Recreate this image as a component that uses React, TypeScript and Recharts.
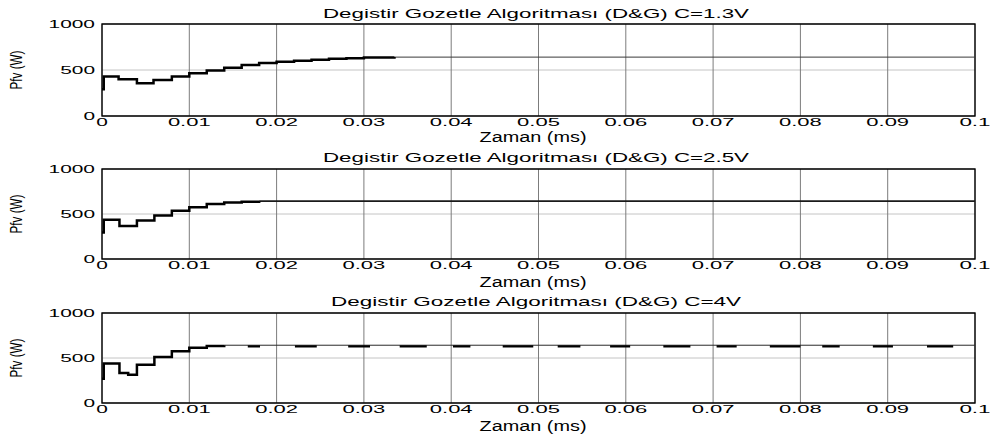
import React from "react";
import { LineChart, Line, XAxis, YAxis, CartesianGrid, ReferenceArea } from "recharts";

// ---------- data ----------
const X_TICKS = [0, 0.01, 0.02, 0.03, 0.04, 0.05, 0.06, 0.07, 0.08, 0.09, 0.1];
const Y_TICKS = [0, 500, 1000];
const TITLES = [
  "Degistir Gozetle Algoritması (D&G) C=1.3V",
  "Degistir Gozetle Algoritması (D&G) C=2.5V",
  "Degistir Gozetle Algoritması (D&G) C=4V",
];
const X_LABEL = "Zaman (ms)";
const Y_LABEL = "Pfv (W)";

// C = 1.3 V
const C13_TIMES = [0, 0.0002, 0.0019, 0.004, 0.0059, 0.008, 0.01, 0.012, 0.014, 0.016, 0.018, 0.02, 0.022, 0.024, 0.026, 0.028, 0.03, 0.0335];
const C13_POWER = [290, 428, 400, 356, 390, 429, 465, 495, 524, 553, 575, 590, 600, 611, 622, 629, 636, 640];
const C13_STEADY_TIMES = [0.0335, 0.1];
const C13_STEADY_POWER = [640, 640];

// C = 2.5 V
const C25_TIMES = [0, 0.0002, 0.002, 0.004, 0.006, 0.008, 0.01, 0.012, 0.014, 0.016, 0.018];
const C25_POWER = [294, 435, 368, 428, 483, 535, 576, 610, 628, 636, 643];
const C25_STEADY_TIMES = [0.018, 0.1];
const C25_STEADY_POWER = [643, 643];

// C = 4 V
const C4_TIMES = [0, 0.0002, 0.002, 0.003, 0.004, 0.006, 0.008, 0.01, 0.012, 0.014];
const C4_POWER = [270, 440, 333, 315, 425, 510, 575, 615, 632, 642];
const C4_STEADY_TIMES = [0.014, 0.1];
const C4_STEADY_POWER = [642, 642];
const C4_BURST_STARTS = [0.0167, 0.0221, 0.0282, 0.0341, 0.0402, 0.0459, 0.0522, 0.0582, 0.0643, 0.0704, 0.0765, 0.0825, 0.0883, 0.0945];
const C4_BURST_ENDS = [0.0181, 0.0246, 0.0307, 0.0372, 0.0422, 0.0494, 0.0548, 0.0605, 0.0674, 0.0727, 0.08, 0.0845, 0.0906, 0.0975];
const C4_BURST_LEVEL = 630;

// ---------- helpers ----------
const zip = (ts: number[], vs: number[]) => ts.map((t, i) => ({ t, v: vs[i] }));
const bursts = (starts: number[], ends: number[], level: number) => {
  const out: { t: number; v: number | null }[] = [];
  starts.forEach((s, i) => {
    out.push({ t: s, v: level });
    out.push({ t: ends[i], v: level });
    if (i < starts.length - 1) out.push({ t: (ends[i] + starts[i + 1]) / 2, v: null });
  });
  return out;
};

const PANELS = [
  {
    transient: zip(C13_TIMES, C13_POWER),
    steady: zip(C13_STEADY_TIMES, C13_STEADY_POWER),
    steadyStyle: { stroke: "#3a3a3a", width: 1 },
    bursts: null as any,
  },
  {
    transient: zip(C25_TIMES, C25_POWER),
    steady: zip(C25_STEADY_TIMES, C25_STEADY_POWER),
    steadyStyle: { stroke: "#1a1a1a", width: 1.6 },
    bursts: null as any,
  },
  {
    transient: zip(C4_TIMES, C4_POWER),
    steady: zip(C4_STEADY_TIMES, C4_STEADY_POWER),
    steadyStyle: { stroke: "#2a2a2a", width: 1 },
    bursts: bursts(C4_BURST_STARTS, C4_BURST_ENDS, C4_BURST_LEVEL),
  },
];

// layout (pixels)
const LAYOUT = [
  { top: 0, height: 146, mt: 24, mb: 10, titleY: 17.5, xLabelY: 142, yMid: 70 },
  { top: 146, height: 146, mt: 23, mb: 13, titleY: 162, xLabelY: 287, yMid: 214 },
  { top: 292, height: 147, mt: 21, mb: 16, titleY: 306, xLabelY: 431, yMid: 358 },
];
const TITLE_LEN = [426, 426, 410];

const FONT = "'Liberation Sans', Arial, Helvetica, sans-serif";

const labelLen = (s: string) => {
  let n = 0;
  for (const ch of s) n += ch === "." ? 8 : 11.6;
  return n;
};

const XTick = (props: any) => {
  const { x, y, payload } = props;
  const s = String(payload.value);
  return (
    <text x={x} y={y} dy={10} textAnchor="middle" fontSize={11.5} fontFamily={FONT} fill="#000"
      textLength={labelLen(s)} lengthAdjust="spacingAndGlyphs">{s}</text>
  );
};
const YTick = (props: any) => {
  const { x, y, payload } = props;
  const s = String(payload.value);
  return (
    <text x={x} y={y} dy={4} textAnchor="end" fontSize={11.5} fontFamily={FONT} fill="#000"
      textLength={labelLen(s)} lengthAdjust="spacingAndGlyphs">{s}</text>
  );
};

function Panel({ idx }: { idx: number }) {
  const p = PANELS[idx];
  const l = LAYOUT[idx];
  return (
    <div style={{ position: "absolute", left: 0, top: l.top, width: 997, height: l.height }}>
      <LineChart width={997} height={l.height} margin={{ top: l.mt, right: 22, left: 0, bottom: l.mb }}>
        <CartesianGrid vertical={false} stroke="#c4c4c4" strokeWidth={1} />
        <CartesianGrid horizontal={false} stroke="#7c7c7c" strokeWidth={1} />
        <XAxis dataKey="t" type="number" domain={[0, 0.1]} ticks={X_TICKS} interval={0}
          allowDataOverflow axisLine={false} tickLine={false} tickSize={0} tickMargin={0}
          height={20} tick={<XTick />} />
        <YAxis type="number" domain={[0, 1000]} ticks={Y_TICKS} interval={0}
          allowDataOverflow axisLine={false} tickLine={false} tickSize={0} tickMargin={7}
          width={102} tick={<YTick />} />
        <Line data={p.steady} dataKey="v" type="linear" stroke={p.steadyStyle.stroke}
          strokeWidth={p.steadyStyle.width} dot={false} isAnimationActive={false} />
        {p.bursts && (
          <Line data={p.bursts} dataKey="v" type="linear" stroke="#000" strokeWidth={2.2}
            dot={false} connectNulls={false} isAnimationActive={false} />
        )}
        <Line data={p.transient} dataKey="v" type="stepAfter" stroke="#000" strokeWidth={2.5}
          dot={false} isAnimationActive={false} />
        <ReferenceArea x1={0} x2={0.1} y1={0} y2={1000} fill="none" fillOpacity={0}
          stroke="#000" strokeWidth={1.3} ifOverflow="visible" />
      </LineChart>
    </div>
  );
}

export default function App() {
  return (
    <div style={{ position: "absolute", left: 0, top: 0, width: 997, height: 439, background: "#fff", overflow: "hidden" }}>
      <Panel idx={0} />
      <Panel idx={1} />
      <Panel idx={2} />
      <svg width={997} height={439} style={{ position: "absolute", left: 0, top: 0, pointerEvents: "none" }}>
        {LAYOUT.map((l, i) => (
          <g key={i} fontFamily={FONT} fill="#000">
            <text x={536} y={l.titleY} textAnchor="middle" fontSize={13.5}
              textLength={TITLE_LEN[i]} lengthAdjust="spacingAndGlyphs">{TITLES[i]}</text>
            <text x={533} y={l.xLabelY} textAnchor="middle" fontSize={14}
              textLength={107} lengthAdjust="spacingAndGlyphs">{X_LABEL}</text>
            <text x={0} y={0} textAnchor="middle" fontSize={16.5}
              transform={`translate(22, ${l.yMid}) rotate(-90)`}
              textLength={39} lengthAdjust="spacingAndGlyphs">{Y_LABEL}</text>
          </g>
        ))}
      </svg>
    </div>
  );
}
